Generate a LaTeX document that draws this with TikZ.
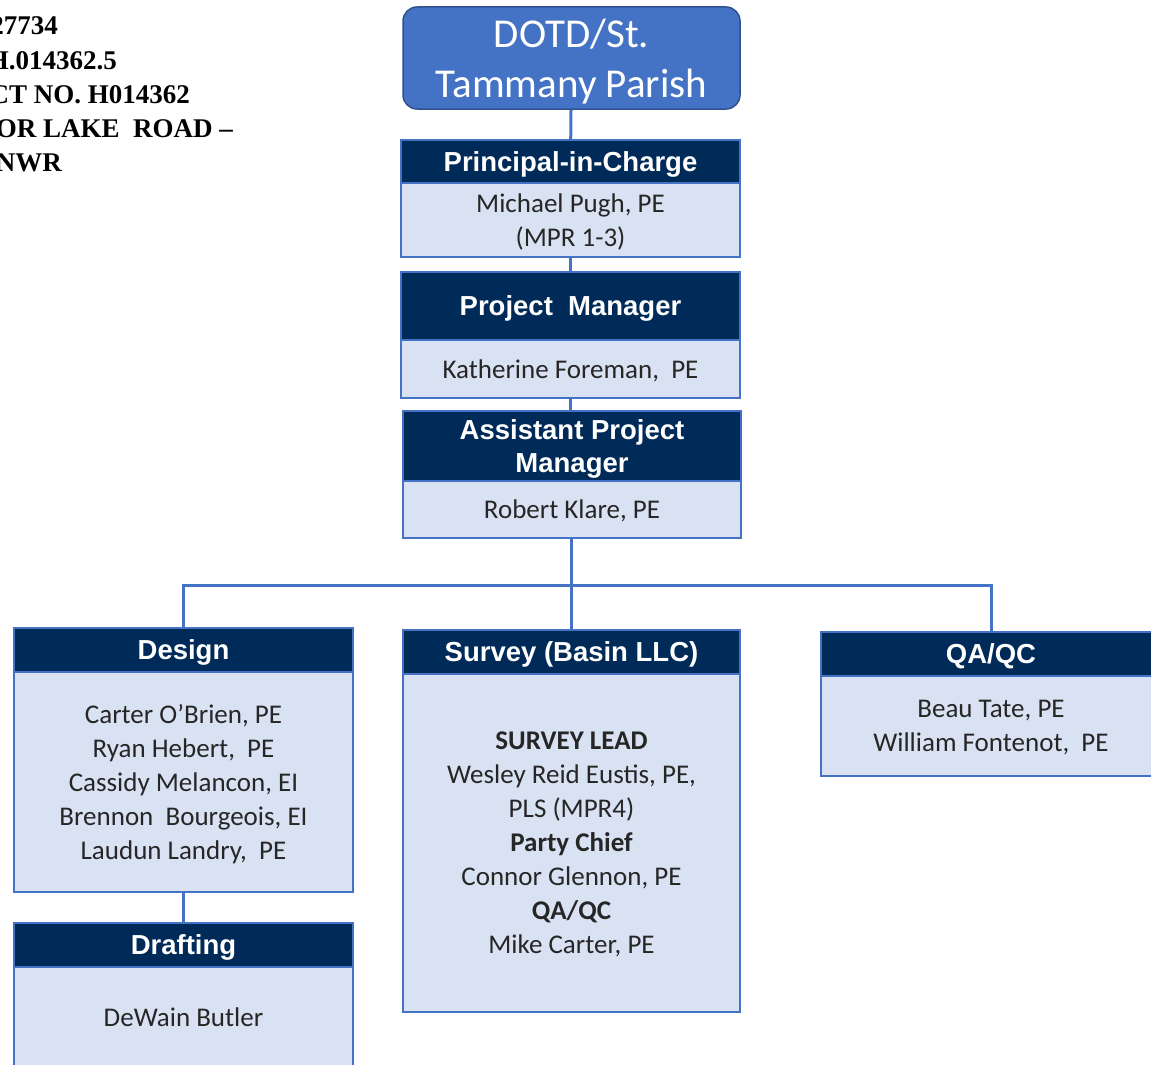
\documentclass[tikz,border=0pt]{standalone}
\usepackage{fontspec}
\setmainfont{Carlito}
\newfontfamily\hdfont{Liberation Sans}
\newfontfamily\tmfont{Liberation Serif}
\usetikzlibrary{positioning}
\definecolor{navy}{RGB}{0,42,87}
\definecolor{lite}{RGB}{217,226,243}
\definecolor{edge}{RGB}{68,114,196}
\definecolor{darkedge}{RGB}{47,82,143}
\definecolor{ink}{RGB}{38,38,38}
\tikzstyle{head}=[rectangle,draw=edge,line width=1.5pt,fill=navy,text=white,inner sep=0pt,text depth=0pt,align=center,font=\hdfont\bfseries\fontsize{27.5}{33}\selectfont]
\tikzstyle{body}=[rectangle,draw=edge,line width=1.5pt,fill=lite,text=ink,inner sep=0pt,text depth=0pt,align=center,font=\fontsize{27}{34}\selectfont]
\tikzstyle{client}=[rectangle,rounded corners=14pt,draw=darkedge,line width=1.5pt,fill=edge,text=white,inner sep=0pt,text depth=0pt,align=center,font=\fontsize{41}{50}\selectfont]
\tikzstyle{link}=[draw=edge,line width=3pt]
\tikzstyle{ref}=[anchor=base east,inner sep=0pt,font=\tmfont\bfseries\fontsize{27}{34}\selectfont]

\begin{document}
\begin{tikzpicture}[x=1pt,y=-1pt]
\useasboundingbox (0,0) rectangle (1151,1065);
% header text, cut at the left edge
\node[ref] (r1) at (58,35) {27734};
\node[ref] (r2) at (117,70) {H.014362.5};
\node[ref] (r3) at (190,103) {CT NO.\ H014362};
\node[ref] (r4) at (233,137) {OR LAKE\ \ ROAD –};
\node[ref] (r5) at (62,171) {NWR};
% chain of command
\node[client, minimum width=337pt, minimum height=102pt] (dotd) at (571.5,58) {DOTD/St.\\Tammany Parish};
\node[head, minimum width=339pt, minimum height=43pt] (pich) at (570.5,161.5) {Principal-in-Charge};
\node[body, minimum width=339pt, minimum height=74pt] (picb) at (570.5,220) {Michael Pugh, PE\\(MPR 1-3)};
\node[head, minimum width=339pt, minimum height=68pt] (pmh) at (570.5,306) {Project\ \ Manager};
\node[body, minimum width=339pt, minimum height=58pt] (pmb) at (570.5,369) {Katherine Foreman,\ \ PE};
\node[head, minimum width=338pt, minimum height=70pt] (apmh) at (572,446) {Assistant Project\\Manager};
\node[body, minimum width=338pt, minimum height=57pt] (apmb) at (572,509.5) {Robert Klare, PE};
% teams
\node[head, minimum width=339pt, minimum height=44pt] (desh) at (183.5,650) {Design};
\node[body, minimum width=339pt, minimum height=220pt] (desb) at (183.5,782) {Carter O’Brien, PE\\Ryan Hebert,\ \ PE\\Cassidy Melancon, EI\\Brennon\ \ Bourgeois, EI\\Laudun Landry,\ \ PE};
\node[head, minimum width=339pt, minimum height=44pt] (drah) at (183.5,945) {Drafting};
\node[body, minimum width=339pt, minimum height=101pt] (drab) at (183.5,1017.5) {DeWain Butler};
\node[head, minimum width=337pt, minimum height=44pt] (surh) at (571.5,652) {Survey (Basin LLC)};
\node[body, minimum width=337pt, minimum height=338pt] (surb) at (571.5,843) {\textbf{SURVEY LEAD}\\Wesley Reid Eustis, PE,\\PLS (MPR4)\\\textbf{Party Chief}\\Connor Glennon, PE\\\textbf{QA/QC}\\Mike Carter, PE};
\node[head, minimum width=340pt, minimum height=44pt] (qah) at (991,654) {QA/QC};
\node[body, minimum width=340pt, minimum height=100pt] (qab) at (991,726) {Beau Tate, PE\\William Fontenot,\ \ PE};
% connectors
\coordinate (barL) at (183.5,585);
\coordinate (barR) at (991,585);
\draw[link] (dotd) -- (pich);
\draw[link] (picb) -- (pmh);
\draw[link] (pmb.south) -- (apmh.north -| pmb.south);
\draw[link] (apmb.south -| surh.north) -- (surh.north);
\draw[link] (desh.north) -- (barL) -- (barR) -- (qah.north);
\draw[link] (desb) -- (drah);
\end{tikzpicture}
\end{document}
